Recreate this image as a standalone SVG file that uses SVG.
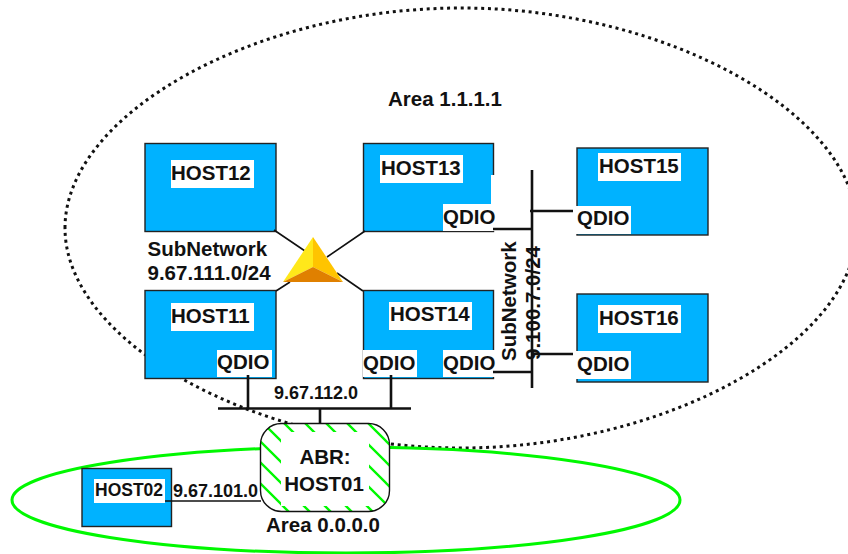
<svg xmlns="http://www.w3.org/2000/svg" width="848" height="554" viewBox="0 0 848 554">
<defs>
<pattern id="hatch" patternUnits="userSpaceOnUse" width="21" height="21" patternTransform="translate(8 0)">
<path d="M-3 -3L24 24M-3 18L3 24M18 -3L24 3" stroke="#00f800" stroke-width="2.300" fill="none"/>
</pattern>
</defs>
<style>
.host{fill:#00b2ff;stroke:#222;stroke-width:1.4}
.lbl{fill:#fff}
text{font-family:"Liberation Sans",Arial,sans-serif;font-weight:bold;fill:#111}
.t{font-size:20.500px}
.s{font-size:18px}
.w{stroke:#111;stroke-width:1.6;fill:none}
.b{stroke:#111;stroke-width:2.6;fill:none}
</style>
<rect width="848" height="554" fill="#fff"/>
<path id="area1" d="M65 228C65 114 255 8 461 8C667 8 857 114 857 228C857 342 667 448 461 448C255 448 65 342 65 228Z" fill="none" stroke="#111" stroke-width="3" stroke-dasharray="3 3.800"/>
<ellipse id="area0" cx="346" cy="500" rx="334" ry="53" fill="none" stroke="#00f800" stroke-width="3"/>
<g id="host12"><rect class="host" x="145" y="143.500" width="131" height="88"/><rect class="lbl" x="171" y="160" width="83" height="28"/><text class="t" x="171" y="180">HOST12</text></g>
<g id="host13"><rect class="host" x="363.500" y="143.500" width="130" height="88"/><rect class="lbl" x="380" y="155" width="83" height="28"/><rect class="lbl" x="491" y="175" width="4" height="56"/><rect class="lbl" x="443" y="204" width="54" height="27"/><text class="t" x="381" y="175">HOST13</text><text class="t" x="443" y="224">QDIO</text></g>
<g id="host15"><rect class="host" x="577" y="148" width="131" height="87"/><rect class="lbl" x="598" y="153" width="83" height="28"/><rect class="lbl" x="575" y="206" width="56" height="28"/><text class="t" x="599" y="173">HOST15</text><text class="t" x="577" y="225">QDIO</text></g>
<g id="host11"><rect class="host" x="145" y="290.500" width="131" height="88"/><rect class="lbl" x="171" y="303" width="83" height="28"/><rect class="lbl" x="217" y="350" width="55" height="27"/><text class="t" x="171" y="323">HOST11</text><text class="t" x="217" y="369">QDIO</text></g>
<g id="host14"><rect class="host" x="363.500" y="290.500" width="130" height="88"/><rect class="lbl" x="389" y="302" width="83" height="28"/><rect class="lbl" x="363" y="350" width="54" height="27"/><rect class="lbl" x="443" y="350" width="54" height="27"/><text class="t" x="390" y="321">HOST14</text><text class="t" x="363" y="370">QDIO</text><text class="t" x="443" y="370">QDIO</text></g>
<g id="host16"><rect class="host" x="577" y="294" width="131" height="88"/><rect class="lbl" x="598" y="305" width="83" height="28"/><rect class="lbl" x="575" y="351" width="56" height="28"/><text class="t" x="599" y="325">HOST16</text><text class="t" x="577" y="371">QDIO</text></g>
<g id="host02"><rect class="host" x="82" y="468.500" width="89.500" height="58"/><rect class="lbl" x="94" y="479" width="71" height="24"/><text x="95" y="496" style="font-size:17.500px">HOST02</text></g>
<g id="connectors">
<path class="w" d="M274 230L305 251M365 231L327 257M363 291L337 273M276 291L290 282"/>
<path class="w" d="M165 501H261"/>
<path class="b" d="M532 170V388M493 229H532M530 211H573M493 372H532M532 354H573"/>
<path class="b" d="M248 375V408.500M391 375V408.500M218 408.500H411M320 408.500V423"/>
</g>
<g id="abr"><rect x="260.500" y="423.500" width="129" height="88" rx="21" fill="#fff"/><rect x="260.500" y="423.500" width="129" height="88" rx="21" fill="url(#hatch)" stroke="#111" stroke-width="1.400"/><rect x="281" y="432" width="88" height="74" fill="#fff"/><text class="t" x="325" y="464" text-anchor="middle">ABR:</text><text class="t" x="324" y="491" text-anchor="middle">HOST01</text></g>
<g id="router"><polygon points="313,237 283,282 313,267" fill="#ffe81a"/><polygon points="313,237 343,282 313,267" fill="#ffc400"/><polygon points="283,282 343,282 313,267" fill="#e08000"/></g>
<text class="t" x="388" y="106">Area 1.1.1.1</text>
<text class="t" x="147.500" y="256">SubNetwork</text>
<text class="t" x="147.500" y="280">9.67.111.0/24</text>
<text class="s" x="274" y="399">9.67.112.0</text>
<text class="s" x="173" y="497">9.67.101.0</text>
<text class="t" x="266" y="532">Area 0.0.0.0</text>
<text class="t" transform="translate(516 361) rotate(-90)">SubNetwork</text>
<text class="t" transform="translate(540 360) rotate(-90)">9.100.7.0/24</text>
</svg>
